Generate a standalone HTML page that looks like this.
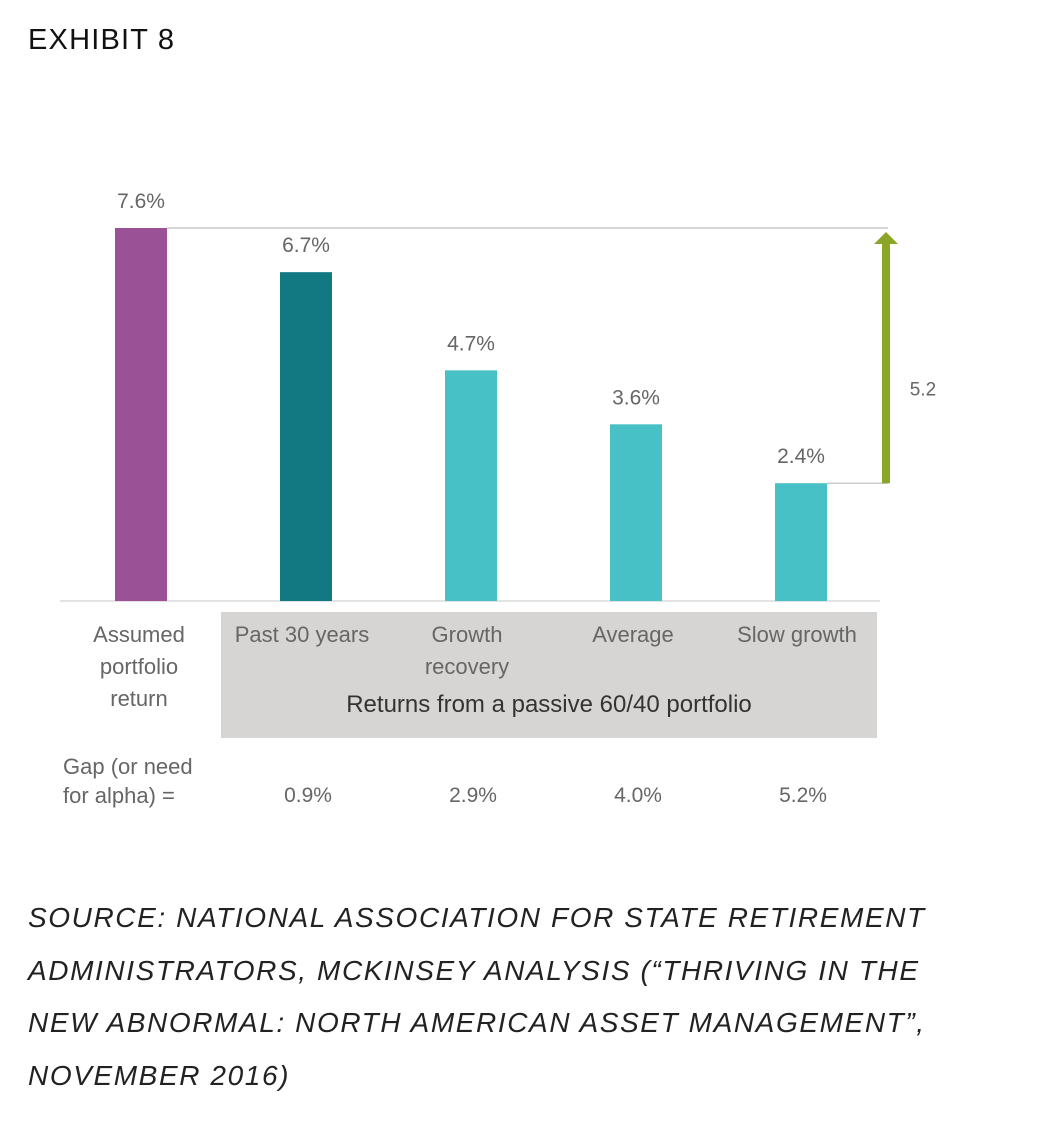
<!DOCTYPE html>
<html><head><meta charset="utf-8"><style>
body{margin:0;background:#fff;width:1038px;height:1144px;overflow:hidden;font-family:"Liberation Sans",sans-serif}
.t{position:absolute;color:#111}
</style></head><body>
<div class="t" style="left:28px;top:24px;font-size:29px;letter-spacing:1.2px">EXHIBIT 8</div>
<svg width="1038" height="860" style="position:absolute;left:0;top:0">
<rect x="221" y="612" width="656" height="126" fill="#d6d5d3"/>
<line x1="60" y1="601" x2="880" y2="601" stroke="#e2e2e2" stroke-width="2"/>
<g id="bars"></g>
<g id="labels" font-family="Liberation Sans, sans-serif" font-size="21" fill="#666" text-anchor="middle"></g>
<text x="302" y="642" font-size="22" fill="#666" text-anchor="middle">Past 30 years</text>
<text x="467" y="642" font-size="22" fill="#666" text-anchor="middle">Growth</text>
<text x="467" y="674" font-size="22" fill="#666" text-anchor="middle">recovery</text>
<text x="633" y="642" font-size="22" fill="#666" text-anchor="middle">Average</text>
<text x="797" y="642" font-size="22" fill="#666" text-anchor="middle">Slow growth</text>
<text x="139" y="642" font-size="22" fill="#666" text-anchor="middle">Assumed</text>
<text x="139" y="674" font-size="22" fill="#666" text-anchor="middle">portfolio</text>
<text x="139" y="706" font-size="22" fill="#666" text-anchor="middle">return</text>
<text x="549" y="712" font-size="24" fill="#333" text-anchor="middle">Returns from a passive 60/40 portfolio</text>
<text x="63" y="774" font-size="22" fill="#666">Gap (or need</text>
<text x="63" y="803" font-size="22" fill="#666">for alpha) =</text>
<g id="gaps" font-size="21" fill="#666" text-anchor="middle"></g>
<g id="arrow"></g>
</svg>
<div class="t" style="left:28px;top:892px;font-size:28px;font-style:italic;line-height:52.5px;color:#222;width:1010px;letter-spacing:1.6px;white-space:nowrap">SOURCE: NATIONAL ASSOCIATION FOR STATE RETIREMENT<br>ADMINISTRATORS, MCKINSEY ANALYSIS (“THRIVING IN THE<br>NEW ABNORMAL: NORTH AMERICAN ASSET MANAGEMENT”,<br>NOVEMBER 2016)</div>
<script>
const categories=["Assumed portfolio return","Past 30 years","Growth recovery","Average","Slow growth"];
const values=[7.6,6.7,4.7,3.6,2.4];
const valueLabels=["7.6%","6.7%","4.7%","3.6%","2.4%"];
const gapLabels=["","0.9%","2.9%","4.0%","5.2%"];
const colors=["#9b5196","#127882","#48c1c6","#48c1c6","#48c1c6"];
const NS="http://www.w3.org/2000/svg";
const base=601,scale=49.08,x0=115,step=165,bw=52;
const y=v=>base-v*scale, xc=i=>x0+i*step+bw/2;
function mk(t,a,p){const e=document.createElementNS(NS,t);for(const k in a)e.setAttribute(k,a[k]);document.getElementById(p).appendChild(e);return e;}
const maxV=values[0],minI=values.length-1,minV=values[minI];
mk('line',{x1:xc(0)+bw/2,y1:y(maxV),x2:888,y2:y(maxV),stroke:'#ccc','stroke-width':1.5},'bars');
mk('line',{x1:xc(minI)+bw/2,y1:y(minV),x2:888,y2:y(minV),stroke:'#ccc','stroke-width':1.5},'bars');
values.forEach((v,i)=>{
 const r=mk('rect',{x:x0+i*step,y:y(v),width:bw,height:base-y(v),fill:colors[i]},'bars');
 
 
 const t=mk('text',{x:xc(i),y:y(v)-20},'labels');t.textContent=valueLabels[i];
 
 
 if(gapLabels[i]){const g=mk('text',{x:xc(i)+2,y:802},'gaps');g.textContent=gapLabels[i];
 
 }
});
const ax=886,gap=(maxV-minV).toFixed(1);
const sh=mk('rect',{x:ax-4,y:y(maxV)+14,width:8,height:y(minV)-y(maxV)-14,fill:'#8ba526'},'arrow');


mk('polygon',{points:`${ax-12},${y(maxV)+16} ${ax},${y(maxV)+4} ${ax+12},${y(maxV)+16}`,fill:'#8ba526'},'arrow');
const gl=mk('text',{x:923,y:(y(maxV)+y(minV))/2+40,'font-size':19,fill:'#666','text-anchor':'middle'},'arrow');gl.textContent=gap;


</script>
</body></html>
